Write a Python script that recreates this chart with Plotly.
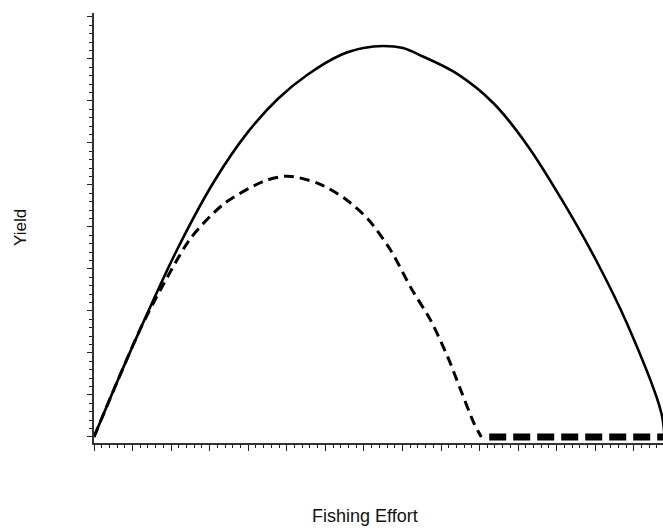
import plotly.graph_objects as go

# Fishing effort (0-100) and yield (0-100)
effort_total = [0, 4.2, 8.3, 14.8, 21.2, 27.2, 32.5, 37.7, 43.6, 47.5, 51.0,
                54.5, 58.0, 64.0, 70.5, 76.5, 82.5, 88.5, 94.0, 100.0, 100.6]
yield_total = [0, 13.5, 26.1, 45.0, 60.9, 72.7, 80.6, 86.3, 91.0, 92.6, 93.1,
               92.6, 90.6, 86.5, 79.4, 69.3, 56.5, 42.2, 27.0, 6.0, 0]

effort_dash = [0, 4.2, 8.3, 12.3, 17.1, 22.9, 30.0, 34.2, 39.5, 44.1, 48.3, 52.4,
               55.9, 59.4, 62.4, 64.7, 67.0, 68.3]
yield_dash = [0, 13.5, 26.1, 36.5, 47.4, 55.5, 60.9, 62.1, 60.4, 56.9, 51.9, 44.3,
              35.5, 27.7, 19.0, 11.1, 3.3, 0]

effort_zero = [69.7, 100.4]
yield_zero = [0, 0]

x_title = "Fishing Effort"
y_title = "Yield"

W, H = 663, 531
L, T, B = 94, 13, 531 - 443
PW, PH = W - L, H - T - B

fig = go.Figure()
fig.add_trace(go.Scatter(x=effort_total, y=yield_total, mode="lines",
                         line=dict(color="black", width=2.6, shape="spline", smoothing=1.0),
                         showlegend=False))
fig.add_trace(go.Scatter(x=effort_dash, y=yield_dash, mode="lines",
                         line=dict(color="black", width=3, dash="10px,6px",
                                   shape="spline", smoothing=0.8),
                         showlegend=False))
fig.add_trace(go.Scatter(x=effort_zero, y=yield_zero, mode="lines",
                         line=dict(color="black", width=7, dash="17px,7px"),
                         showlegend=False))

fig.update_layout(
    width=W, height=H,
    margin=dict(l=L, r=0, t=T, b=B, pad=0),
    paper_bgcolor="white", plot_bgcolor="white",
    xaxis=dict(range=[0, 100.35], showgrid=False, zeroline=False,
               showline=True, linecolor="#333", linewidth=2,
               ticks="outside", ticklen=6, tickwidth=1, tickcolor="#222",
               tick0=0, dtick=6.8, showticklabels=False,
               minor=dict(tick0=0, dtick=1.36, ticks="outside", ticklen=3,
                          tickwidth=1, tickcolor="#222", showgrid=False)),
    yaxis=dict(range=[-1.43, 100.95], showgrid=False, zeroline=False,
               showline=True, linecolor="#333", linewidth=2,
               ticks="outside", ticklen=5, tickwidth=1, tickcolor="#222",
               tick0=0, dtick=10, showticklabels=False,
               minor=dict(tick0=0, dtick=2, ticks="outside", ticklen=3,
                          tickwidth=1, tickcolor="#222", showgrid=False)),
    annotations=[
        dict(text=x_title, xref="paper", yref="paper", x=(365 - 94) / PW,
             y=-(516 - 443) / PH, xanchor="center", yanchor="middle",
             showarrow=False,
             font=dict(family="Liberation Sans Narrow, Liberation Sans, Arial",
                       size=18, color="#111")),
        dict(text=y_title, xref="paper", yref="paper", x=-(94 - 20) / PW,
             y=(443 - 228) / PH, xanchor="center", yanchor="middle",
             showarrow=False, textangle=-90,
             font=dict(family="Liberation Sans, Arial", size=17, color="#111")),
    ],
)

fig.write_html("out.html", config={"displayModeBar": False},
               post_script="document.body.style.margin='0';"
                           "document.body.style.overflow='hidden';")
